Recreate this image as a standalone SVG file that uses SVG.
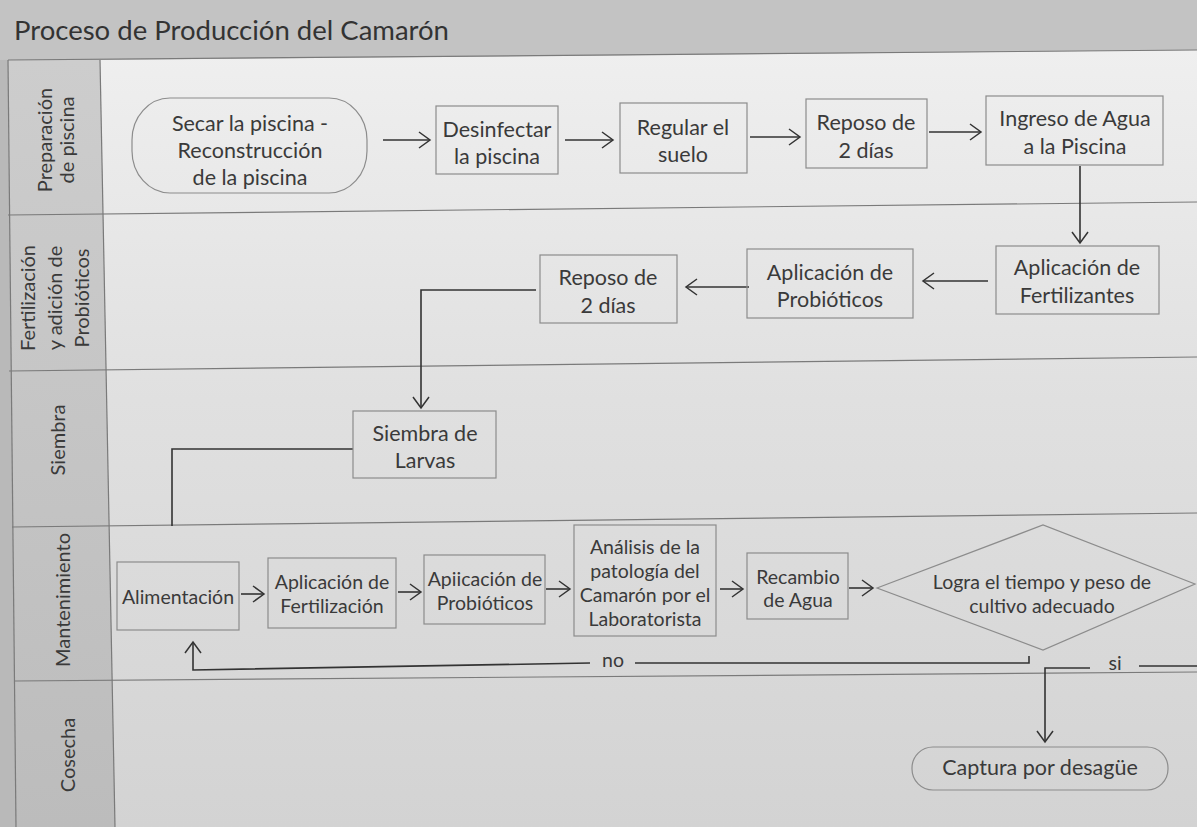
<svg xmlns="http://www.w3.org/2000/svg" width="1197" height="827" viewBox="0 0 1197 827">
<defs>
<linearGradient id="bg" x1="0" y1="0" x2="0" y2="1">
<stop offset="0" stop-color="#efefef"/>
<stop offset="0.45" stop-color="#e0e0e0"/>
<stop offset="1" stop-color="#d3d3d3"/>
</linearGradient>
<linearGradient id="lab" x1="0" y1="0" x2="0" y2="1">
<stop offset="0" stop-color="#cdcdcd"/>
<stop offset="1" stop-color="#bcbcbc"/>
</linearGradient>
<marker id="arr" markerUnits="userSpaceOnUse" markerWidth="16" markerHeight="18" refX="13" refY="9" orient="auto">
<path d="M2,1 L13,9 L2,17" fill="none" stroke="#333" stroke-width="1.5"/>
</marker>
</defs>
<style>
.t{font-family:Lato,"Open Sans","Liberation Sans",sans-serif;font-size:21.5px;fill:#3a3a3a;text-anchor:middle}
.s{font-size:19.5px}
.lane{font-family:Lato,"Open Sans","Liberation Sans",sans-serif;font-size:20px;fill:#3a3a3a;text-anchor:middle}
.box{fill:none;stroke:#8c8c8c;stroke-width:1.2}
.c{fill:none;stroke:#333;stroke-width:1.6}
.ln{stroke:#7a7a7a;stroke-width:1.2;fill:none}
</style>
<rect x="0" y="0" width="1197" height="827" fill="#b9b9b9"/>
<polygon points="0,0 1197,0 1197,50 0,60" fill="#c3c3c3"/>
<polygon points="100,60 1197,50 1197,827 115,827" fill="url(#bg)"/>
<polygon points="8,60 100,60 115,827 16,827" fill="url(#lab)"/>
<text x="14" y="40" style="font-family:Lato,'Open Sans','Liberation Sans',sans-serif;font-size:27.5px;fill:#333">Proceso de Producción del Camarón</text>
<g id="lanes">
<line class="ln" x1="8" y1="60" x2="1197" y2="50"/>
<line class="ln" x1="8" y1="215" x2="1197" y2="202"/>
<line class="ln" x1="9" y1="371" x2="1197" y2="357"/>
<line class="ln" x1="12" y1="527" x2="1197" y2="513"/>
<line class="ln" x1="14" y1="681" x2="1197" y2="672"/>
<line class="ln" x1="100" y1="60" x2="115" y2="827"/>
<line class="ln" x1="8" y1="60" x2="16" y2="827"/>
<g transform="translate(56,140) rotate(-90)"><text class="lane" y="-4">Preparación</text><text class="lane" y="18">de piscina</text></g>
<g transform="translate(57,298) rotate(-90)"><text class="lane" y="-22">Fertilización</text><text class="lane" y="5">y adición de</text><text class="lane" y="32">Probióticos</text></g>
<g transform="translate(58,440) rotate(-90)"><text class="lane" y="7">Siembra</text></g>
<g transform="translate(63,600) rotate(-90)"><text class="lane" y="7">Mantenimiento</text></g>
<g transform="translate(68,755) rotate(-90)"><text class="lane" y="7">Cosecha</text></g>
</g>
<g id="connectors">
<path class="c" d="M383,140 H430" marker-end="url(#arr)"/>
<path class="c" d="M565,140 H613" marker-end="url(#arr)"/>
<path class="c" d="M750,137 H800" marker-end="url(#arr)"/>
<path class="c" d="M929,132 H981" marker-end="url(#arr)"/>
<path class="c" d="M1080,166 V243" marker-end="url(#arr)"/>
<path class="c" d="M988,281 H923" marker-end="url(#arr)"/>
<path class="c" d="M749,287 H686" marker-end="url(#arr)"/>
<path class="c" d="M536,290 H421 V408" marker-end="url(#arr)"/>
<path class="c" d="M353,449 H172 V526"/>
<path class="c" d="M241,594 H264" marker-end="url(#arr)"/>
<path class="c" d="M398,592 H421" marker-end="url(#arr)"/>
<path class="c" d="M546,589 H570" marker-end="url(#arr)"/>
<path class="c" d="M720,589 H743" marker-end="url(#arr)"/>
<path class="c" d="M849,588 H873" marker-end="url(#arr)"/>
<path class="c" d="M1029,656 V663 H635"/>
<path class="c" d="M590,663 L193,670 V642" marker-end="url(#arr)"/>
<text class="t s" x="613" y="667">no</text>
<path class="c" d="M1090,668 H1045 V742" marker-end="url(#arr)"/>
<text class="t s" x="1115" y="670">si</text>
<path class="c" d="M1139,666 H1197"/>
</g>
<g id="n1"><rect class="box" x="132" y="98" width="235" height="95" rx="38" ry="42"/><text class="t" x="250" y="131">Secar la piscina -</text><text class="t" x="250" y="158">Reconstrucción</text><text class="t" x="250" y="185">de la piscina</text></g>
<g id="n2"><rect class="box" x="436" y="106" width="122" height="68"/><text class="t" x="497" y="137">Desinfectar</text><text class="t" x="497" y="164">la piscina</text></g>
<g id="n3"><rect class="box" x="620" y="103" width="127" height="70"/><text class="t" x="683" y="135">Regular el</text><text class="t" x="683" y="162">suelo</text></g>
<g id="n4"><rect class="box" x="806" y="99" width="121" height="69"/><text class="t" x="866" y="130">Reposo de</text><text class="t" x="866" y="158">2 días</text></g>
<g id="n5"><rect class="box" x="986" y="96" width="177" height="69"/><text class="t" x="1075" y="126">Ingreso de Agua</text><text class="t" x="1075" y="154">a la Piscina</text></g>
<g id="n6"><rect class="box" x="996" y="246" width="163" height="68"/><text class="t" x="1077" y="275">Aplicación de</text><text class="t" x="1077" y="303">Fertilizantes</text></g>
<g id="n7"><rect class="box" x="747" y="249" width="166" height="69"/><text class="t" x="830" y="280">Aplicación de</text><text class="t" x="830" y="307">Probióticos</text></g>
<g id="n8"><rect class="box" x="540" y="255" width="137" height="68"/><text class="t" x="608" y="285">Reposo de</text><text class="t" x="608" y="313">2 días</text></g>
<g id="n9"><rect class="box" x="353" y="411" width="143" height="67"/><text class="t" x="425" y="441">Siembra de</text><text class="t" x="425" y="468">Larvas</text></g>
<g id="n10"><rect class="box" x="117" y="562" width="122" height="68"/><text class="t s" x="178" y="604">Alimentación</text></g>
<g id="n11"><rect class="box" x="268" y="558" width="128" height="70"/><text class="t s" x="332" y="589">Aplicación de</text><text class="t s" x="332" y="613">Fertilización</text></g>
<g id="n12"><rect class="box" x="424" y="555" width="121" height="69"/><text class="t s" x="485" y="586">Apiicación de</text><text class="t s" x="485" y="610">Probióticos</text></g>
<g id="n13"><rect class="box" x="574" y="525" width="142" height="111"/><text class="t s" x="645" y="554">Análisis de la</text><text class="t s" x="645" y="578">patología del</text><text class="t s" x="645" y="602">Camarón por el</text><text class="t s" x="645" y="626">Laboratorista</text></g>
<g id="n14"><rect class="box" x="747" y="553" width="101" height="66"/><text class="t s" x="798" y="584">Recambio</text><text class="t s" x="798" y="607">de Agua</text></g>
<g id="n15"><polygon class="box" points="877,588 1043,525 1195,584 1043,650"/><text class="t s" x="1042" y="589">Logra el tiempo y peso de</text><text class="t s" x="1042" y="613">cultivo adecuado</text></g>
<g id="n16"><rect class="box" x="912" y="747" width="256" height="43" rx="21"/><text class="t" x="1040" y="775">Captura por desagüe</text></g>
</svg>
